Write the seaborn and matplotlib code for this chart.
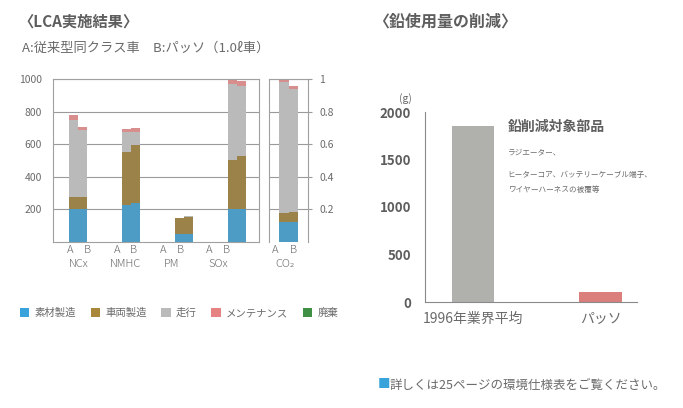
import matplotlib.pyplot as plt
import pandas as pd
import seaborn as sns
from matplotlib.patches import Patch

# LCA results (A: conventional car of same class, B: Passo)
groups = ["NCx", "NMHC", "PM", "SOx"]
cars = ["A", "B"]
components = ["素材製造", "車両製造", "走行", "メンテナンス", "廃棄"]
colors = ["#38a3da", "#a8873a", "#bababa", "#e58282", "#3f8f45"]

# values in order NCx A, NCx B, NMHC A, NMHC B, PM A, PM B, SOx A, SOx B
material = [200, 200, 227, 241, 52, 52, 202, 200]
vehicle = [78, 78, 323, 357, 93, 103, 303, 326]
driving = [470, 409, 126, 78, 3, 4, 464, 429]
maintenance = [29, 20, 19, 21, 0, 0, 31, 30]
disposal = [0, 0, 0, 0, 0, 0, 0, 0]

# CO2 (right scale, 0-1), A and B
co2_material = [0.124, 0.124]
co2_vehicle = [0.055, 0.062]
co2_driving = [0.800, 0.752]
co2_maintenance = [0.017, 0.017]
co2_disposal = [0.0, 0.0]

# lead usage (g)
lead_labels = ["1996年業界平均", "パッソ"]
lead_values = [1850, 105]
lead_colors = ["#b0b0ad", "#ea716c"]

sns.set_theme(style="white")
plt.rcParams["font.family"] = ["Noto Sans CJK JP", "DejaVu Sans"]
txt = "#6a6a6a"

df = pd.DataFrame({
    "group": [g for g in groups for _ in cars],
    "car": cars * len(groups),
    components[0]: material,
    components[1]: vehicle,
    components[2]: driving,
    components[3]: maintenance,
    components[4]: disposal,
})
co2 = pd.DataFrame({
    "group": ["CO2", "CO2"],
    "car": cars,
    components[0]: co2_material,
    components[1]: co2_vehicle,
    components[2]: co2_driving,
    components[3]: co2_maintenance,
    components[4]: co2_disposal,
})


def stacked(ax, data, order):
    cum = data[components].cumsum(axis=1)
    for i in range(len(components) - 1, -1, -1):
        d = data.assign(top=cum[components[i]])
        sns.barplot(data=d, x="group", y="top", hue="car", order=order,
                    hue_order=cars, palette=[colors[i], colors[i]],
                    width=0.34, errorbar=None, legend=False, ax=ax,
                    linewidth=0)


fig = plt.figure(figsize=(6.83, 4.08), dpi=100)

# ---- main LCA panel
ax1 = fig.add_axes([53 / 683, 1 - 242 / 408, 206 / 683, 163 / 408])
stacked(ax1, df, groups)
ax1.set_xlim(-0.47, 3.42)
ax1.set_ylim(0, 1000)
ax1.set_yticks([200, 400, 600, 800, 1000])
ax1.set_yticklabels(["200", "400", "600", "800", "1000"])
ax1.tick_params(axis="y", length=0, labelsize=7.5, labelcolor=txt, pad=8)
ax1.set_xticks([])
ax1.set_xlabel("")
ax1.set_ylabel("")
ax1.yaxis.grid(True, color="#9a9a9a", linewidth=0.8)
ax1.set_axisbelow(True)
for s in ax1.spines.values():
    s.set_color("#a0a0a0")
    s.set_linewidth(0.8)

label_pitch = 0.875
for i, g in enumerate(groups):
    c = i * label_pitch + 0.02
    tr = ax1.get_xaxis_transform()
    ax1.text(c - 0.16, -0.055, "A", transform=tr, ha="center", va="center",
             fontsize=8, color=txt, fontweight="light")
    ax1.text(c + 0.16, -0.055, "B", transform=tr, ha="center", va="center",
             fontsize=8, color=txt, fontweight="light")
    ax1.text(c, -0.14, g, transform=tr, ha="center", va="center",
             fontsize=8, color=txt, fontweight="light")

# ---- CO2 panel
ax2 = fig.add_axes([269 / 683, 1 - 242 / 408, 39 / 683, 163 / 408])
stacked(ax2, co2, ["CO2"])
ax2.set_xlim(-0.368, 0.368)
ax2.set_ylim(0, 1)
ax2.set_xticks([])
ax2.set_xlabel("")
ax2.set_ylabel("")
ax2.yaxis.tick_right()
ax2.set_yticks([0.2, 0.4, 0.6, 0.8, 1.0])
ax2.set_yticklabels(["0.2", "0.4", "0.6", "0.8", "1"])
ax2.tick_params(axis="y", length=3, width=0.8, color="#9a9a9a", direction="out",
                labelsize=7.5, labelcolor=txt, pad=5)
ax2.yaxis.grid(True, color="#9a9a9a", linewidth=0.8)
ax2.set_axisbelow(True)
for s in ax2.spines.values():
    s.set_color("#a0a0a0")
    s.set_linewidth(0.8)
ax2.spines["bottom"].set_visible(False)
tr2 = ax2.get_xaxis_transform()
ax2.text(-0.25, -0.055, "A", transform=tr2, ha="center", va="center",
         fontsize=8, color=txt, fontweight="light")
ax2.text(0.085, -0.055, "B", transform=tr2, ha="center", va="center",
         fontsize=8, color=txt, fontweight="light")
ax2.text(-0.066, -0.14, "CO₂", transform=tr2, ha="center", va="center",
         fontsize=8, color=txt, fontweight="light")

# titles and legend
fig.text(18 / 683, 1 - 22 / 408, "〈LCA実施結果〉", fontsize=11, fontweight="bold",
         color="#5e5e5e", va="center")
fig.text(22 / 683, 1 - 48 / 408, "A:従来型同クラス車　B:パッソ（1.0ℓ車）",
         fontsize=9.5, color=txt, va="center")
handles = [Patch(facecolor=c, edgecolor="none") for c in colors]
fig.legend(handles, components, loc="center left",
           bbox_to_anchor=(20 / 683, 1 - 313 / 408), ncol=5, frameon=False,
           fontsize=7.5, handlelength=0.9, handleheight=0.9, handletextpad=0.5,
           columnspacing=1.4, borderpad=0, borderaxespad=0, labelcolor=txt)

# ---- lead usage panel
ax3 = fig.add_axes([425 / 683, 1 - 302 / 408, 212 / 683, 190 / 408])
sns.barplot(x=lead_labels, y=lead_values, hue=lead_labels, palette=lead_colors,
            width=0.33, legend=False, ax=ax3, linewidth=0)
ax3.set_xlim(-0.376, 1.286)
ax3.set_ylim(0, 2000)
ax3.set_yticks([0, 500, 1000, 1500, 2000])
ax3.tick_params(axis="y", length=6, width=0.8, color="#8a8a8a", direction="inout",
                labelsize=9.5, labelcolor="#5e5e5e", pad=7)
for lab in ax3.get_yticklabels():
    lab.set_fontweight("bold")
ax3.tick_params(axis="x", length=0, labelsize=10, labelcolor=txt, pad=7)
sns.despine(ax=ax3, top=True, right=True)
for s in ["left", "bottom"]:
    ax3.spines[s].set_color("#8a8a8a")
    ax3.spines[s].set_linewidth(0.8)
ax3.text(-0.06, 1.04, "(g)", transform=ax3.transAxes, ha="right", va="bottom",
         fontsize=7.5, color=txt)
ax3.text(0.39, 0.92, "鉛削減対象部品", transform=ax3.transAxes, fontsize=10,
         fontweight="bold", color="#5e5e5e", va="center")
ax3.text(0.39, 0.79, "ラジエーター、", transform=ax3.transAxes, fontsize=5.5,
         color=txt, va="center")
ax3.text(0.39, 0.67, "ヒーターコア、バッテリーケーブル端子、", transform=ax3.transAxes,
         fontsize=5.5, color=txt, va="center")
ax3.text(0.39, 0.59, "ワイヤーハーネスの被覆等", transform=ax3.transAxes,
         fontsize=5.5, color=txt, va="center")

fig.text(373 / 683, 1 - 22 / 408, "〈鉛使用量の削減〉", fontsize=11.5, fontweight="bold",
         color="#5e5e5e", va="center")
fig.text(378 / 683, 1 - 385 / 408, "■", fontsize=9, color="#38a3da", va="center")
fig.text(390 / 683, 1 - 385 / 408, "詳しくは25ページの環境仕様表をご覧ください。",
         fontsize=9, color=txt, va="center")

fig.savefig("out.png", dpi=100, facecolor="white")
